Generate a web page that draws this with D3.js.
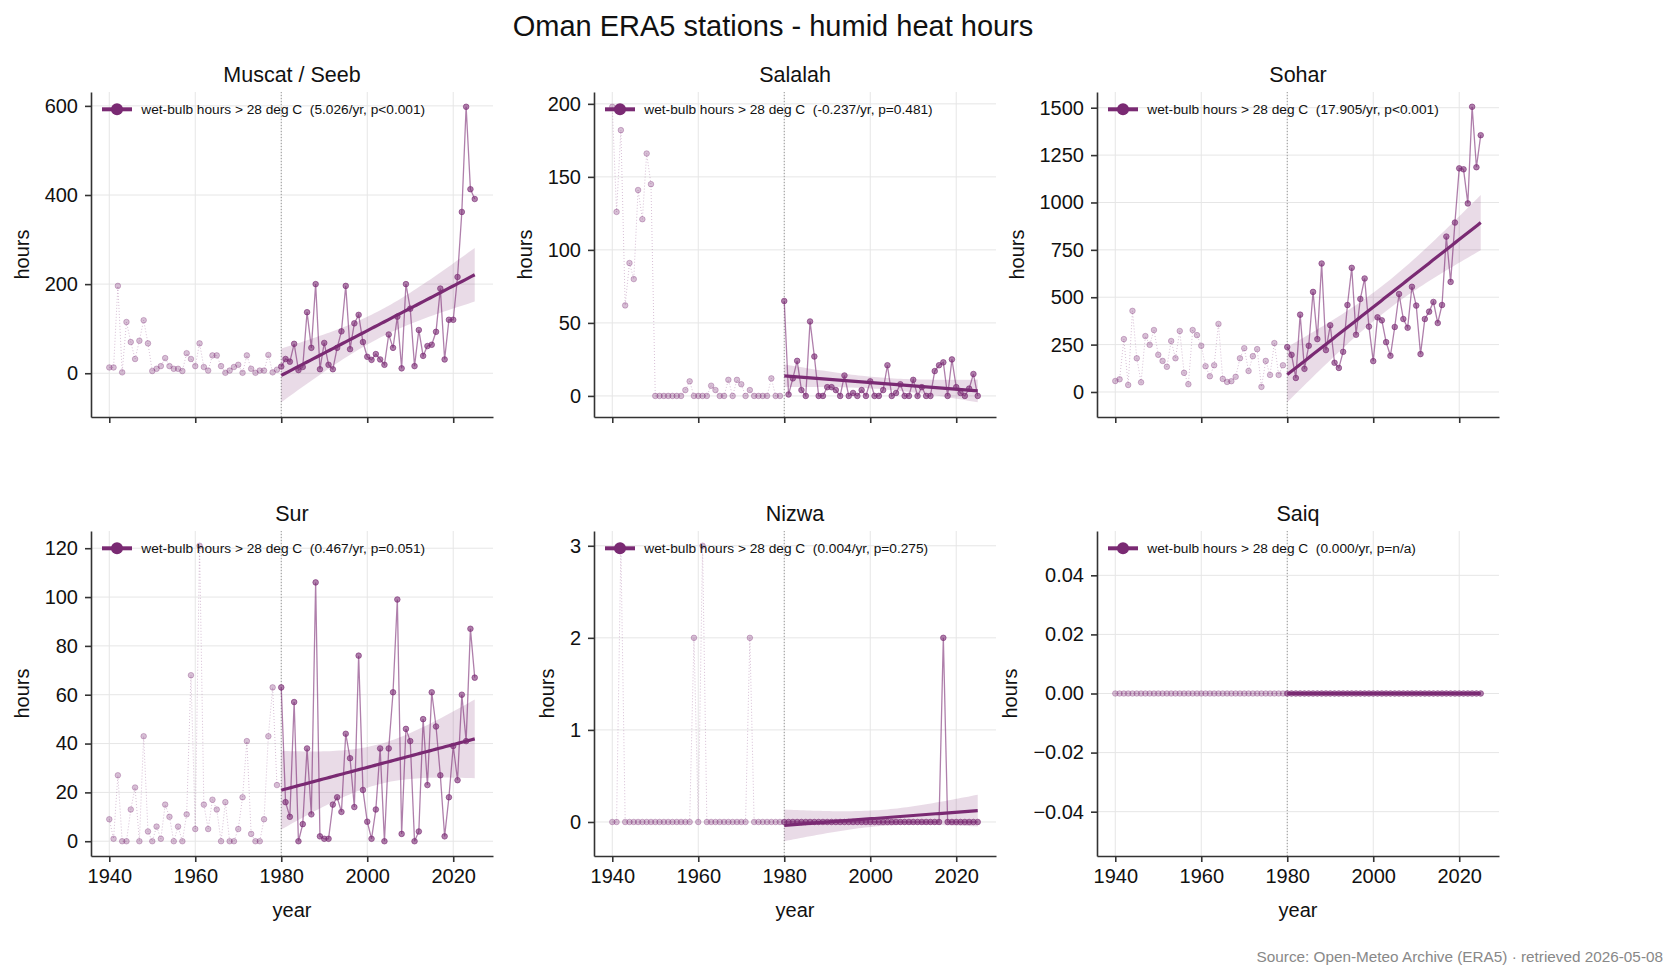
<!DOCTYPE html>
<html>
<head>
<meta charset="utf-8">
<script src="https://cdn.jsdelivr.net/npm/d3@7"></script>
<style>
  body { margin: 0; background: #fff; }
  svg { font-family: "Liberation Sans", Arial, sans-serif; }
</style>
</head>
<body>
<div id="chart"></div>
<script>
// years on the x axis, trend fitted from splitYear on
const years = d3.range(1940, 2026)
const splitYear = 1980
const xTicks = [1940, 1960, 1980, 2000, 2020]

const stationNames = ["Muscat / Seeb", "Salalah", "Sohar", "Sur", "Nizwa", "Saiq"]

// wet-bulb hours > 28 deg C, one value per year 1940..2025
const muscatHours = [
  13, 13, 196, 2, 115, 70, 32, 73, 119, 67,
  5, 10, 16, 34, 16, 10, 10, 5, 45, 32,
  16, 67, 14, 6, 40, 40, 16, 1, 6, 14,
  19, 1, 40, 10, 1, 6, 6, 41, 2, 8,
  15, 32, 26, 66, 7, 14, 137, 57, 200, 9,
  68, 19, 9, 57, 94, 196, 54, 112, 131, 70,
  37, 30, 43, 31, 19, 87, 57, 127, 11, 200,
  145, 16, 97, 39, 61, 64, 93, 190, 31, 120,
  120, 216, 362, 598, 413, 391
]
const salalahHours = [
  198, 126, 182, 62, 91, 80, 141, 121, 166, 145,
  0, 0, 0, 0, 0, 0, 0, 4, 10, 0,
  0, 0, 0, 7, 4, 0, 0, 11, 0, 11,
  8, 0, 4, 0, 0, 0, 0, 12, 0, 0,
  65, 1, 12, 24, 4, 0, 51, 27, 0, 0,
  6, 6, 4, 0, 14, 0, 2, 0, 4, 0,
  10, 0, 0, 4, 21, 0, 2, 8, 0, 0,
  11, 0, 6, 0, 0, 17, 21, 23, 0, 25,
  6, 2, 0, 5, 15, 0
]
const soharHours = [
  58, 67, 279, 37, 428, 178, 51, 295, 249, 327,
  196, 164, 133, 269, 178, 322, 101, 41, 327, 300,
  244, 136, 83, 141, 359, 69, 53, 57, 80, 178,
  231, 111, 189, 226, 27, 164, 90, 258, 90, 141,
  237, 196, 74, 408, 122, 244, 528, 279, 678, 221,
  352, 154, 127, 212, 459, 655, 302, 491, 599, 345,
  163, 394, 378, 263, 191, 343, 517, 385, 339, 555,
  456, 200, 385, 424, 475, 364, 459, 820, 581, 894,
  1180, 1175, 995, 1505, 1186, 1355
]
const surHours = [
  9, 1, 27, 0, 0, 13, 22, 0, 43, 4,
  0, 6, 1, 15, 10, 0, 6, 0, 11, 68,
  5, 121, 15, 5, 17, 13, 0, 16, 0, 0,
  5, 18, 41, 3, 0, 0, 9, 43, 63, 23,
  63, 16, 10, 57, 0, 7, 38, 11, 106, 2,
  1, 1, 15, 18, 12, 44, 34, 14, 76, 21,
  8, 1, 13, 38, 0, 38, 61, 99, 3, 46,
  41, 0, 4, 50, 23, 61, 47, 27, 2, 18,
  39, 25, 60, 41, 87, 67
]
const nizwaHours = [
  0, 0, 3, 0, 0, 0, 0, 0, 0, 0,
  0, 0, 0, 0, 0, 0, 0, 0, 0, 2,
  0, 3, 0, 0, 0, 0, 0, 0, 0, 0,
  0, 0, 2, 0, 0, 0, 0, 0, 0, 0,
  0, 0, 0, 0, 0, 0, 0, 0, 0, 0,
  0, 0, 0, 0, 0, 0, 0, 0, 0, 0,
  0, 0, 0, 0, 0, 0, 0, 0, 0, 0,
  0, 0, 0, 0, 0, 0, 0, 2, 0, 0,
  0, 0, 0, 0, 0, 0
]
const saiqHours = [
  0, 0, 0, 0, 0, 0, 0, 0, 0, 0,
  0, 0, 0, 0, 0, 0, 0, 0, 0, 0,
  0, 0, 0, 0, 0, 0, 0, 0, 0, 0,
  0, 0, 0, 0, 0, 0, 0, 0, 0, 0,
  0, 0, 0, 0, 0, 0, 0, 0, 0, 0,
  0, 0, 0, 0, 0, 0, 0, 0, 0, 0,
  0, 0, 0, 0, 0, 0, 0, 0, 0, 0,
  0, 0, 0, 0, 0, 0, 0, 0, 0, 0,
  0, 0, 0, 0, 0, 0
]
const hoursByStation = [muscatHours, salalahHours, soharHours, surHours, nizwaHours, saiqHours]

const trendLabels = [
  "5.026/yr, p<0.001",
  "-0.237/yr, p=0.481",
  "17.905/yr, p<0.001",
  "0.467/yr, p=0.051",
  "0.004/yr, p=0.275",
  "0.000/yr, p=n/a"
]

const yTicksByStation = [
  [0, 200, 400, 600],
  [0, 50, 100, 150, 200],
  [0, 250, 500, 750, 1000, 1250, 1500],
  [0, 20, 40, 60, 80, 100, 120],
  [0, 1, 2, 3],
  [-0.04, -0.02, 0, 0.02, 0.04]
]
const yTickFormats = [",d", ",d", "d", "d", "d", ".2f"]

const seriesLabel = "wet-bulb hours > 28 deg C"
const title = "Oman ERA5 stations - humid heat hours"
const source = "Source: Open-Meteo Archive (ERA5) \u00b7 retrieved 2026-05-08"

// layout
const width = 1678, height = 978
const colLeft = [91, 594, 1097]
const rowTop = [92, 531]
const plotW = 402, plotH = 325
const purple = "#7a2a73"
const ink = "#333"

const svg = d3.select("#chart").append("svg")
  .attr("width", width)
  .attr("height", height)

svg.append("rect").attr("width", width).attr("height", height).attr("fill", "#fff")

svg.append("text")
  .attr("x", 773).attr("y", 36)
  .attr("text-anchor", "middle")
  .attr("font-size", 29)
  .attr("fill", "#111")
  .text(title)

svg.append("text")
  .attr("x", 1663).attr("y", 962)
  .attr("text-anchor", "end")
  .attr("font-size", 15.3)
  .attr("fill", "#888")
  .text(source)

// ordinary least squares + 95% band on the mean
function fitTrend(xs, ys) {
  const n = xs.length
  const mx = d3.mean(xs), my = d3.mean(ys)
  const sxx = d3.sum(xs, x => (x - mx) ** 2)
  const sxy = d3.sum(xs, (x, i) => (x - mx) * (ys[i] - my))
  const slope = sxy / sxx
  const icept = my - slope * mx
  const sse = d3.sum(xs, (x, i) => (ys[i] - icept - slope * x) ** 2)
  const s = Math.sqrt(sse / (n - 2))
  const t = 2.0154
  const x0 = xs[0], x1 = xs[n - 1]
  return d3.range(0, 61).map(i => {
    const x = x0 + (x1 - x0) * i / 60
    const yhat = icept + slope * x
    const se = s * Math.sqrt(1 / n + (x - mx) ** 2 / sxx)
    return { x, y: yhat, lo: yhat - t * se, hi: yhat + t * se }
  })
}

const x = d3.scaleLinear()
  .domain([1940 - 0.05 * 85, 2025 + 0.05 * 85])
  .range([0, plotW])

stationNames.forEach((name, k) => {
  const col = k % 3, row = Math.floor(k / 3)
  const hours = hoursByStation[k]
  const points = years.map((yr, i) => ({ yr, v: hours[i] }))
  const early = points.filter(d => d.yr <= splitYear)
  const late = points.filter(d => d.yr >= splitYear)
  const trend = fitTrend(late.map(d => d.yr), late.map(d => d.v))

  let lo = Math.min(d3.min(hours), d3.min(trend, d => d.lo))
  let hi = Math.max(d3.max(hours), d3.max(trend, d => d.hi))
  if (hi - lo < 1e-9) { lo -= 0.05; hi += 0.05 }
  const pad = 0.05 * (hi - lo)

  const y = d3.scaleLinear()
    .domain([lo - pad, hi + pad])
    .range([plotH, 0])

  const g = svg.append("g")
    .attr("transform", `translate(${colLeft[col]},${rowTop[row]})`)

  // grid
  g.append("g").selectAll("line.gx")
    .data(xTicks).enter().append("line")
    .attr("x1", d => x(d)).attr("x2", d => x(d))
    .attr("y1", 0).attr("y2", plotH)
    .attr("stroke", "#e6e6e6").attr("stroke-width", 1)
  g.append("g").selectAll("line.gy")
    .data(yTicksByStation[k]).enter().append("line")
    .attr("x1", 0).attr("x2", plotW)
    .attr("y1", d => y(d)).attr("y2", d => y(d))
    .attr("stroke", "#e6e6e6").attr("stroke-width", 1)

  // 1980 split marker
  g.append("line")
    .attr("x1", x(splitYear)).attr("x2", x(splitYear))
    .attr("y1", 0).attr("y2", plotH)
    .attr("stroke", "#999").attr("stroke-width", 1)
    .attr("stroke-dasharray", "1,2")

  const line = d3.line().x(d => x(d.yr)).y(d => y(d.v))

  // before 1980: faint, dotted
  g.append("path")
    .attr("d", line(early.filter(d => d.yr < splitYear)))
    .attr("fill", "none")
    .attr("stroke", purple).attr("stroke-opacity", 0.3)
    .attr("stroke-width", 1).attr("stroke-dasharray", "1,2")
  g.append("g").selectAll("circle")
    .data(early.filter(d => d.yr < splitYear)).enter().append("circle")
    .attr("cx", d => x(d.yr)).attr("cy", d => y(d.v)).attr("r", 2.8)
    .attr("fill", purple).attr("fill-opacity", 0.3)
    .attr("stroke", purple).attr("stroke-opacity", 0.3).attr("stroke-width", 1)

  // from 1980: solid
  g.append("path")
    .attr("d", line(late))
    .attr("fill", "none")
    .attr("stroke", purple).attr("stroke-opacity", 0.6)
    .attr("stroke-width", 1.3)
  g.append("g").selectAll("circle")
    .data(late).enter().append("circle")
    .attr("cx", d => x(d.yr)).attr("cy", d => y(d.v)).attr("r", 2.8)
    .attr("fill", purple).attr("fill-opacity", 0.6)
    .attr("stroke", purple).attr("stroke-opacity", 0.6).attr("stroke-width", 1)

  // trend band and line
  g.append("path")
    .attr("d", d3.area().x(d => x(d.x)).y0(d => y(d.lo)).y1(d => y(d.hi))(trend))
    .attr("fill", purple).attr("fill-opacity", 0.17)
  g.append("path")
    .attr("d", d3.line().x(d => x(d.x)).y(d => y(d.y))(trend))
    .attr("fill", "none")
    .attr("stroke", purple).attr("stroke-width", 3.2)

  // axes
  const yAxis = g.append("g")
    .call(d3.axisLeft(y).tickValues(yTicksByStation[k])
      .tickFormat(d3.format(yTickFormats[k]))
      .tickSize(6).tickSizeOuter(0).tickPadding(7))
  const xAxis = g.append("g")
    .attr("transform", `translate(0,${plotH})`)
    .call(d3.axisBottom(x).tickValues(xTicks)
      .tickFormat(row === 1 ? d3.format("d") : () => "")
      .tickSize(6).tickSizeOuter(0).tickPadding(7))
  for (const ax of [yAxis, xAxis]) {
    ax.select(".domain").attr("stroke", ink).attr("stroke-width", 1.6)
    ax.selectAll(".tick line").attr("stroke", ink).attr("stroke-width", 1.6)
    ax.selectAll(".tick text")
      .attr("font-size", 20).attr("fill", "#111")
      .attr("font-family", "Liberation Sans, Arial, sans-serif")
  }

  const labelsBox = yAxis.node().getBBox()
  g.append("text")
    .attr("transform", `translate(${labelsBox.x - 16},${plotH / 2}) rotate(-90)`)
    .attr("text-anchor", "middle")
    .attr("font-size", 20).attr("fill", "#111")
    .text("hours")

  if (row === 1) {
    g.append("text")
      .attr("x", plotW / 2).attr("y", plotH + 61)
      .attr("text-anchor", "middle")
      .attr("font-size", 20).attr("fill", "#111")
      .text("year")
  }

  g.append("text")
    .attr("x", plotW / 2).attr("y", -10.5)
    .attr("text-anchor", "middle")
    .attr("font-size", 21.5).attr("fill", "#111")
    .text(name)

  // legend
  const leg = g.append("g").attr("transform", "translate(11,17.3)")
  leg.append("line")
    .attr("x1", 0).attr("x2", 30).attr("y1", 0).attr("y2", 0)
    .attr("stroke", purple).attr("stroke-width", 4)
  leg.append("circle")
    .attr("cx", 15).attr("cy", 0).attr("r", 6)
    .attr("fill", purple)
  leg.append("text")
    .attr("x", 39.3).attr("y", 0)
    .attr("dy", "0.35em")
    .attr("font-size", 13.7).attr("fill", "#111")
    .style("white-space", "pre")
    .text(`${seriesLabel}  (${trendLabels[k]})`)
})
</script>
</body>
</html>
